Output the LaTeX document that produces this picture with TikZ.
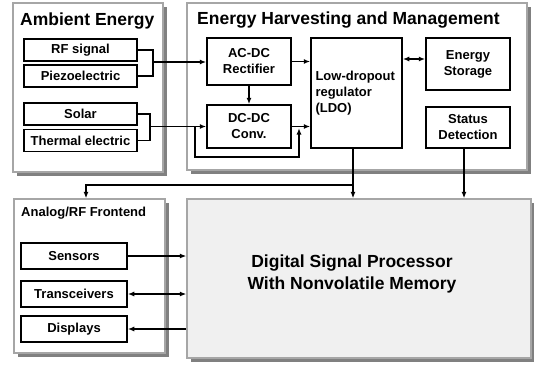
\documentclass[tikz,border=0pt]{standalone}
\usepackage{fontspec}
\setmainfont{Liberation Sans}
\usetikzlibrary{shadows,arrows.meta}
\begin{document}
\begin{tikzpicture}[x=1pt,y=-1pt,>={Latex[length=6.5pt,width=5pt]},
every node/.style={font=\bfseries\fontsize{13}{16}\selectfont},
panel/.style={draw=black!35,line width=1.3pt,fill=white,minimum width=#1,
  drop shadow={shadow xshift=3.5pt,shadow yshift=-3.5pt,fill=black!50,opacity=1}},
box/.style={draw,line width=1.5pt,align=center,inner sep=0pt},
ttl/.style={anchor=base west,inner sep=0pt,font=\bfseries\fontsize{17.5}{20}\selectfont},
wire/.style={line width=1.5pt}]
\useasboundingbox (0,0) rectangle (534,364);
% panels
\node[panel=150pt,minimum height=169pt] (amb) at (88,87.5) {};
\node[panel=340pt,minimum height=167pt] (ehm) at (357,86.5) {};
\node[panel=151pt,minimum height=154pt] (afe) at (89.5,276) {};
\node[panel=344pt,minimum height=159pt,fill=black!6] (dsp) at (359,278.5) {};
\node[align=center,font=\bfseries\fontsize{17.5}{22}\selectfont] (dspt) at (352,274)
{Digital Signal Processor\\With Nonvolatile Memory};
\node[ttl] (ambt) at (20,25) {Ambient Energy};
\node[ttl] (ehmt) at (197,24) {Energy Harvesting and Management};
\node[ttl,font=\bfseries\fontsize{13}{16}\selectfont] (afet) at (21,216) {Analog/RF Frontend};
% sources
\node[box,minimum width=113pt,minimum height=22pt] (rf) at (80.5,50) {RF signal};
\node[box,minimum width=113pt,minimum height=22pt] (piezo) at (80.5,76) {Piezoelectric};
\node[box,minimum width=113pt,minimum height=22pt] (solar) at (80.5,114) {Solar};
\node[box,minimum width=113pt,minimum height=22pt] (therm) at (80.5,140.5) {Thermal electric};
% harvesting
\node[box,minimum width=84pt,minimum height=47pt] (acdc) at (249,61.5) {AC-DC\\Rectifier};
\node[box,minimum width=84pt,minimum height=43pt] (dcdc) at (249,126.5) {DC-DC\\Conv.};
\node[box,align=left,text width=82pt,inner xsep=4.5pt,minimum height=110pt] (ldo) at (356.5,93)
{Low-dropout\\regulator\\(LDO)};
\node[box,minimum width=84pt,minimum height=52pt] (stor) at (468,64) {Energy\\Storage};
\node[box,minimum width=84pt,minimum height=41pt] (stat) at (468,127.5) {Status\\Detection};
% frontend
\node[box,minimum width=106pt,minimum height=26pt] (sens) at (74,256) {Sensors};
\node[box,minimum width=106pt,minimum height=26pt] (trx) at (74,294) {Transceivers};
\node[box,minimum width=106pt,minimum height=26pt] (disp) at (74,329) {Displays};
% junctions
\coordinate (rfj) at (153,62);
\coordinate (slj) at (150,126.5);
\coordinate (byp) at (195,126.5);
\coordinate (ldoj) at (353,185);
% wiring
\draw[wire] (rf.east) -| (rfj) |- (piezo.east);
\draw[wire,->] (rfj) -- (rfj -| acdc.west);
\draw[wire] (solar.east) -| (slj) |- (therm.east);
\draw[wire,->] (slj) -- (dcdc.west);
\draw[wire,->] (byp) |- (299,157) -- (299,128);
\draw[wire,->] (acdc.east) -- (acdc.east -| ldo.west);
\draw[wire,->] (acdc.south) -- (dcdc.north);
\draw[wire,->] (dcdc.east) -- (dcdc.east -| ldo.west);
\draw[wire,<->] ([yshift=5pt]stor.west) -- ([yshift=5pt]stor.west -| ldo.east);
\draw[wire,->] ([xshift=-3.5pt]ldo.south) -- ([xshift=-3.5pt]ldo.south |- dsp.north);
\draw[wire,->] (ldoj) -| ([xshift=-3.5pt]afe.north);
\draw[wire,->] ([xshift=-4pt]stat.south) -- ([xshift=-4pt]stat.south |- dsp.north);
\draw[wire,->] (sens.east) -- (sens.east -| dsp.west);
\draw[wire,<->] (trx.east) -- (trx.east -| dsp.west);
\draw[wire,<-] (disp.east) -- (disp.east -| dsp.west);
\end{tikzpicture}
\end{document}
